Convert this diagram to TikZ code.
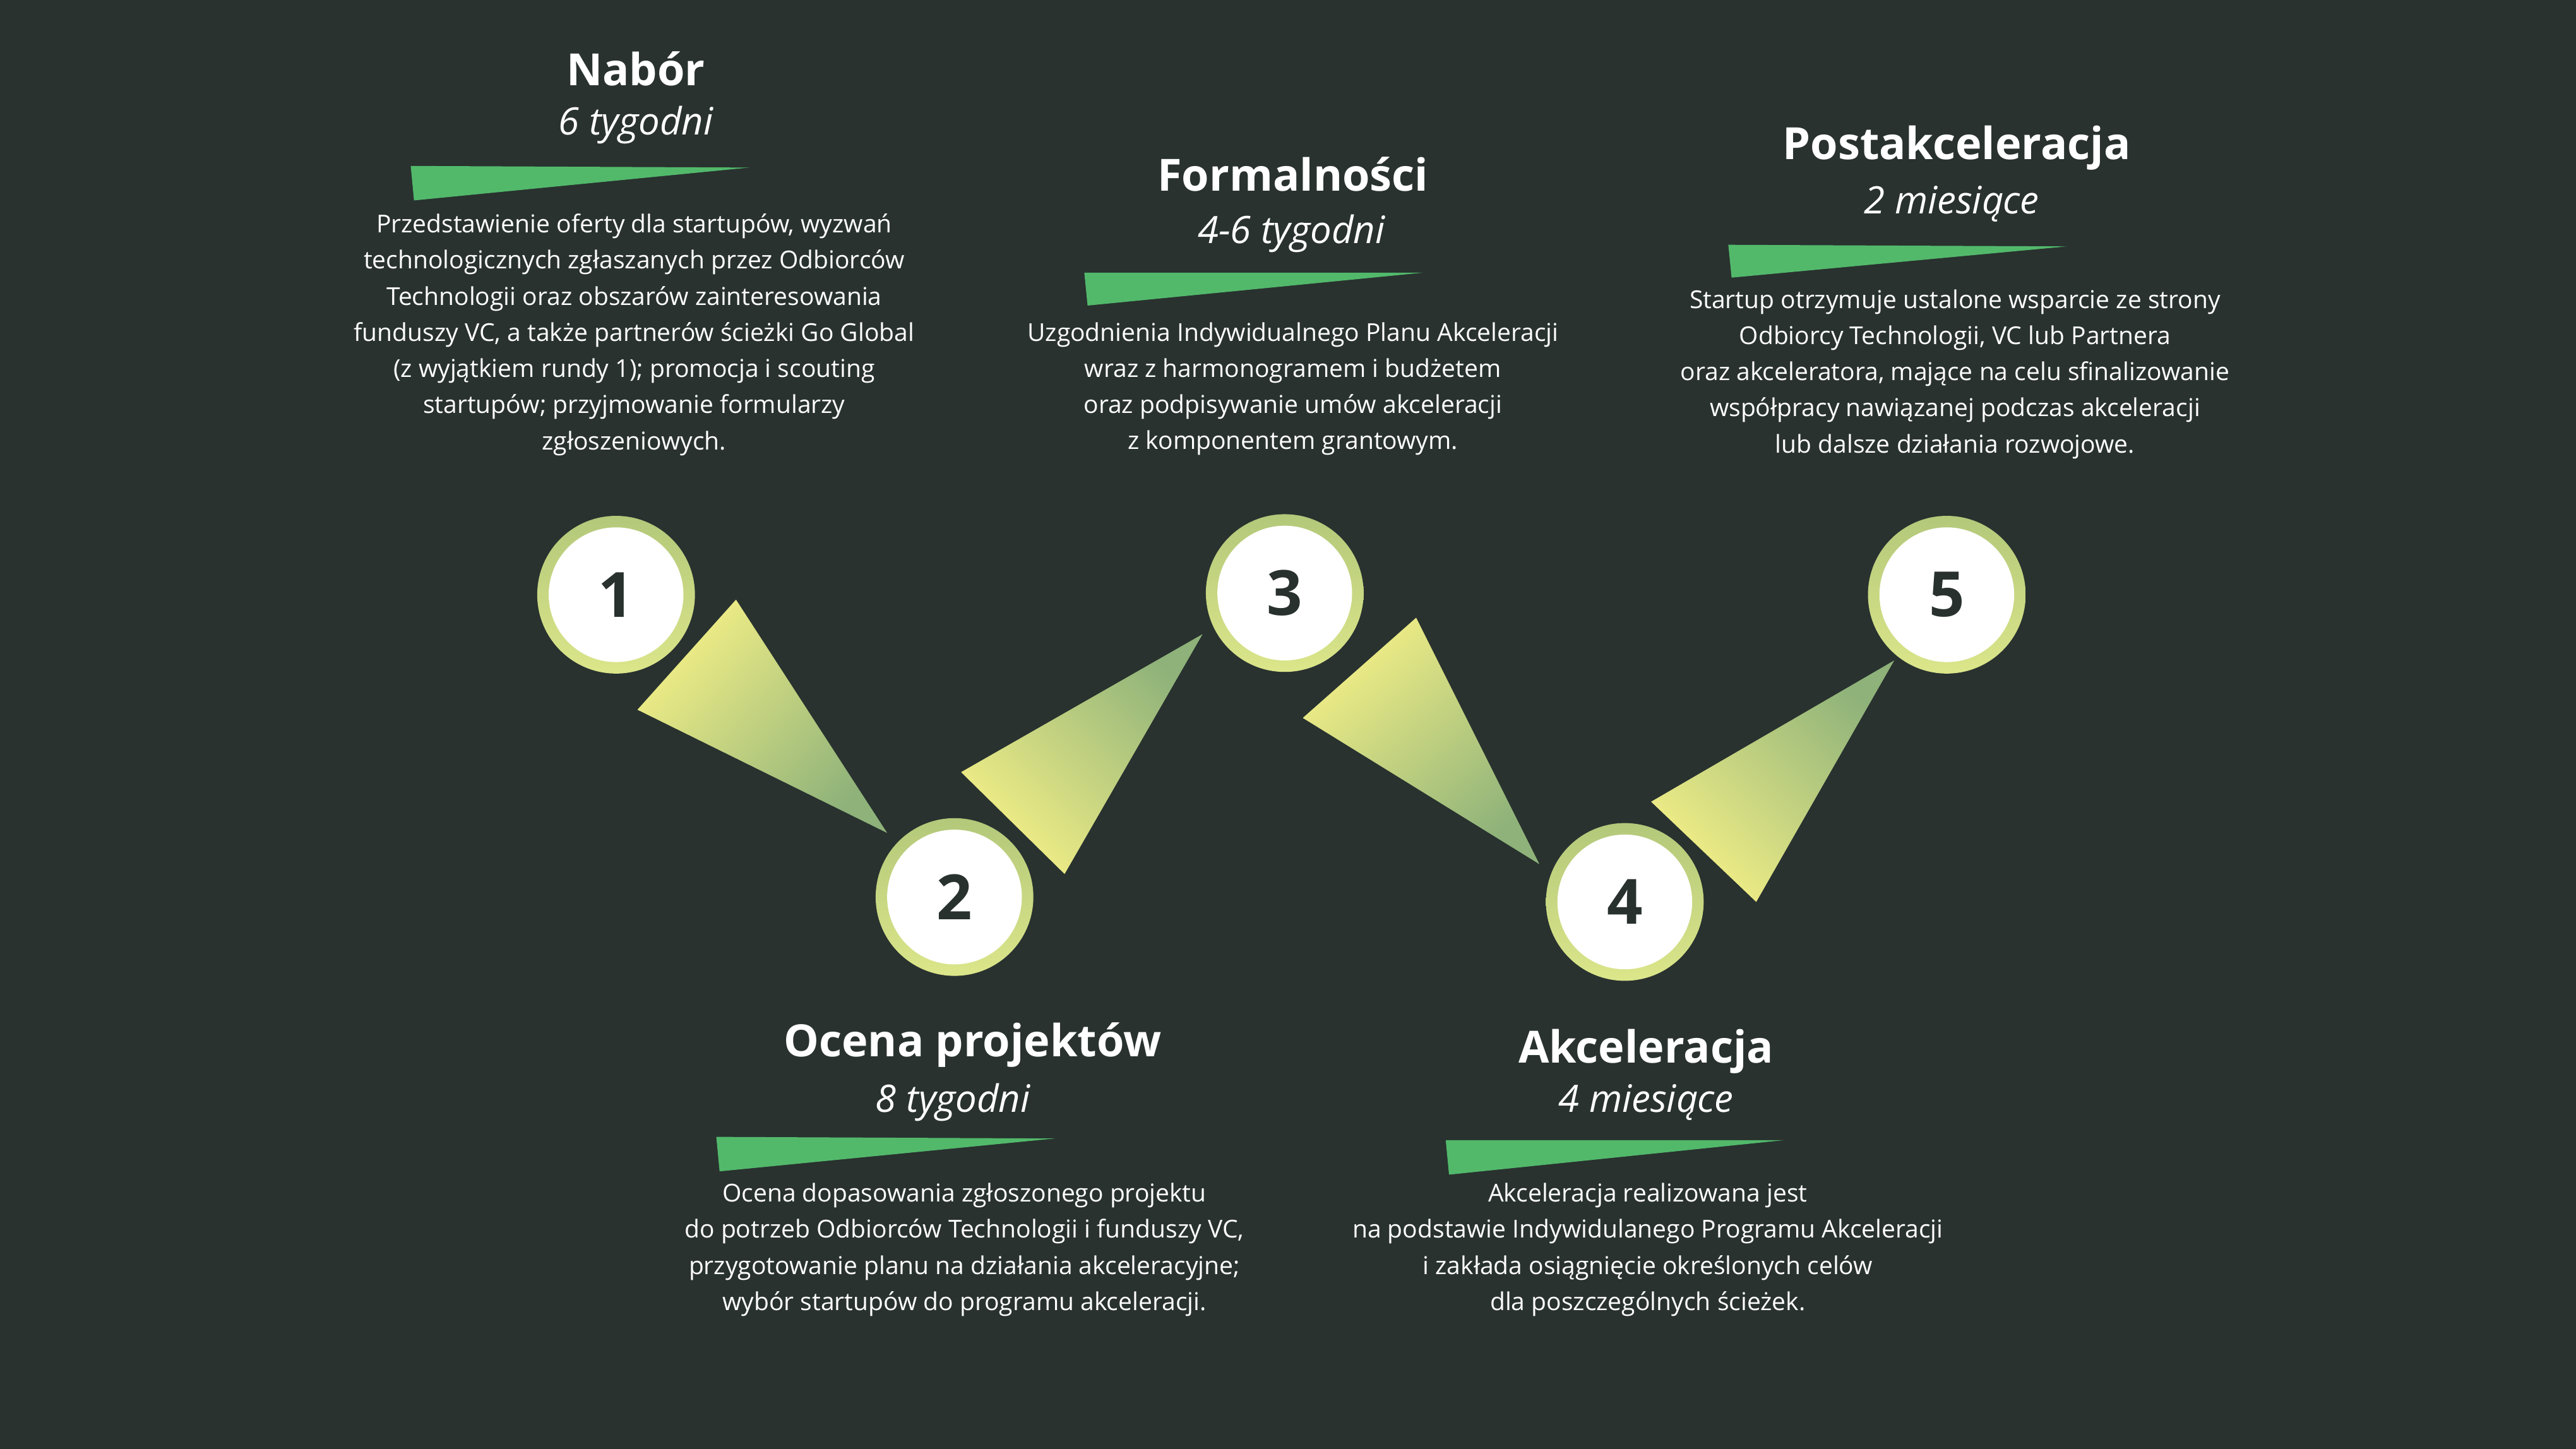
\documentclass[tikz,border=0pt]{standalone}
\usepackage{fontspec}
\setmainfont{Open Sans}
\begin{document}
\begin{tikzpicture}[x=1pt,y=-1pt]
\definecolor{bg}{HTML}{29322F}
\definecolor{wedge}{HTML}{52B96B}
\definecolor{ylw}{HTML}{F3EF86}
\definecolor{grn}{HTML}{8EB27A}
\definecolor{ringA}{HTML}{B3C87A}
\definecolor{ringB}{HTML}{DCE68A}
\definecolor{numc}{HTML}{28312E}
\tikzset{
 title/.style={text=white,font=\fontsize{27}{32}\selectfont\bfseries,inner sep=0},
 sub/.style={text=white,font=\fontsize{23}{28}\selectfont\itshape,inner sep=0},
 body/.style={text=white,font=\fontsize{15}{22}\selectfont,align=center,inner sep=0,anchor=north},
 num/.style={circle,fill=white,minimum size=82pt,inner sep=0,text=numc,font=\fontsize{38}{40}\selectfont\bfseries},
 ring/.style={top color=ringA,bottom color=ringB},
 tri/.style={top color=ylw,bottom color=grn},
}
\fill[bg] (0,0) rectangle (1568,882);
\useasboundingbox (0,0) rectangle (1568,882);
% triangles
\shade[tri,shading angle=48] (448,365) -- (388,432) -- (540,507) -- cycle;
\shade[tri,shading angle=135] (585,470) -- (648,532) -- (732,386) -- cycle;
\shade[tri,shading angle=42] (862,376) -- (793,437) -- (937,526) -- cycle;
\shade[tri,shading angle=135] (1005,488) -- (1069,549) -- (1153,402) -- cycle;
% circles
\foreach \n/\x/\y in {1/375/362,2/581/546,3/782/361,4/989/549,5/1185/362}{
 \shade[ring] (\x,\y) circle (48);
 \node[num] (c\n) at (\x,\y) {\n};
}
% wedges
\fill[wedge] (250,101) -- (456,102) -- (252,122) -- cycle;
\fill[wedge] (660,166) -- (866,166) -- (662,186) -- cycle;
\fill[wedge] (1052,149) -- (1258,150) -- (1054,169) -- cycle;
\fill[wedge] (436,692) -- (642,693) -- (438,713) -- cycle;
\fill[wedge] (880,694) -- (1086,694) -- (882,715) -- cycle;
% texts
\node[title] (t1) at (387,42) {Nabór};
\node[sub] (s1) at (387,76) {6 tygodni};
\node[body] (b1) at (386,130) {Przedstawienie oferty dla startupów, wyzwań\\technologicznych zgłaszanych przez Odbiorców\\Technologii oraz obszarów zainteresowania\\funduszy VC, a także partnerów ścieżki Go Global\\(z wyjątkiem rundy 1); promocja i scouting\\startupów; przyjmowanie formularzy\\zgłoszeniowych.};
\node[title] (t3) at (787,106) {Formalności};
\node[sub] (s3) at (786,142) {4-6 tygodni};
\node[body] (b3) at (787,196) {Uzgodnienia Indywidualnego Planu Akceleracji\\wraz z harmonogramem i budżetem\\oraz podpisywanie umów akceleracji\\z komponentem grantowym.};
\node[title] (t5) at (1191,90) {Postakceleracja};
\node[sub] (s5) at (1188,124) {2 miesiące};
\node[body] (b5) at (1190,176) {Startup otrzymuje ustalone wsparcie ze strony\\Odbiorcy Technologii, VC lub Partnera\\oraz akceleratora, mające na celu sfinalizowanie\\współpracy nawiązanej podczas akceleracji\\lub dalsze działania rozwojowe.};
\node[title] (t2) at (592,636) {Ocena projektów};
\node[sub] (s2) at (580,671) {8 tygodni};
\node[body] (b2) at (587,720) {Ocena dopasowania zgłoszonego projektu\\do potrzeb Odbiorców Technologii i funduszy VC,\\przygotowanie planu na działania akceleracyjne;\\wybór startupów do programu akceleracji.};
\node[title] (t4) at (1002,640) {Akceleracja};
\node[sub] (s4) at (1002,671) {4 miesiące};
\node[body] (b4) at (1003,720) {Akceleracja realizowana jest\\na podstawie Indywidulanego Programu Akceleracji\\i zakłada osiągnięcie określonych celów\\dla poszczególnych ścieżek.};
\end{tikzpicture}
\end{document}
